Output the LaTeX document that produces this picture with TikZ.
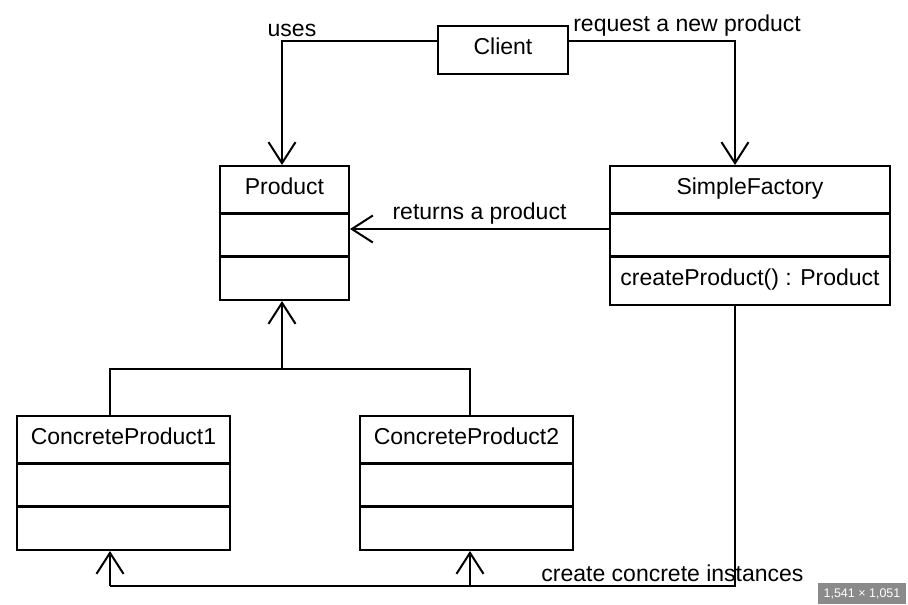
\documentclass[tikz,border=0pt]{standalone}
\usepackage{fontspec}
\setmainfont{Liberation Sans}
\usetikzlibrary{arrows.meta}
\usetikzlibrary{positioning}

\begin{document}
\begin{tikzpicture}[x=1pt,y=-1pt,>={Straight Barb[length=21pt,width=27pt]},
  line width=2pt,font=\fontsize{23}{27}\selectfont,
  part/.style={rectangle,draw,line width=2pt,inner sep=0pt},
  title part/.style={part,minimum height=47pt,text height=17pt,text depth=8pt}]

  \useasboundingbox (0,0) rectangle (908,605);

  \node[title part,minimum width=130pt,minimum height=48pt] (client) at (503,50) {Client};

  \node[title part,minimum width=129pt] (prodT) at (284.5,189.5) {Product};
  \node[part,minimum width=129pt,minimum height=42pt] (prodM) [below=-1pt of prodT] {};
  \node[part,minimum width=129pt,minimum height=43pt] (prodB) [below=-1pt of prodM] {};

  \node[title part,minimum width=280pt] (sfT) at (750,189.5) {SimpleFactory};
  \node[part,minimum width=280pt,minimum height=42pt] (sfM) [below=-1pt of sfT] {};
  \node[title part,minimum width=280pt,minimum height=48pt] (sfB) [below=-1pt of sfM] {createProduct() : Product};

  \node[title part,minimum width=213pt] (cp1T) at (123.5,439.5) {ConcreteProduct1};
  \node[part,minimum width=213pt,minimum height=42pt] (cp1M) [below=-1pt of cp1T] {};
  \node[part,minimum width=213pt,minimum height=43pt] (cp1B) [below=-1pt of cp1M] {};

  \node[title part,minimum width=213pt] (cp2T) at (466.5,439.5) {ConcreteProduct2};
  \node[part,minimum width=213pt,minimum height=42pt] (cp2M) [below=-1pt of cp2T] {};
  \node[part,minimum width=213pt,minimum height=43pt] (cp2B) [below=-1pt of cp2M] {};

  % client associations
  \draw[->] ([yshift=9pt]client.west) -| node[pos=0.5,above,xshift=10pt] {uses} ([xshift=-2.5pt]prodT.north);
  \draw[->] ([yshift=9pt]client.east) -| node[pos=0,above right] {request a new product} ([xshift=-15pt]sfT.north);
  \draw[->] ([yshift=6pt]sfM.west) -- node[above] {returns a product} ([yshift=6pt]prodM.east);

  % generalization
  \coordinate (hub) at (282,369);
  \draw[->] (hub) -- (hub |- prodB.south);
  \draw ([xshift=-13.5pt]cp1T.north) |- (hub) -| ([xshift=3.5pt]cp2T.north);

  % factory creates
  \coordinate (low1) at (110,586);
  \coordinate (low2) at (470,586);
  \draw ([xshift=-15pt]sfB.south) |- node[pos=0.55,above] {create concrete instances} (low1);
  \draw[->] (low1) -- (low1 |- cp1B.south);
  \draw[->] (low2) -- (low2 |- cp2B.south);

  \node[fill=black!46,text=white,font=\fontsize{12.5}{14}\selectfont,minimum width=88pt,
    minimum height=21pt,inner sep=0pt] (badge) at (862,593.5) {1,541 × 1,051};
\end{tikzpicture}
\end{document}
